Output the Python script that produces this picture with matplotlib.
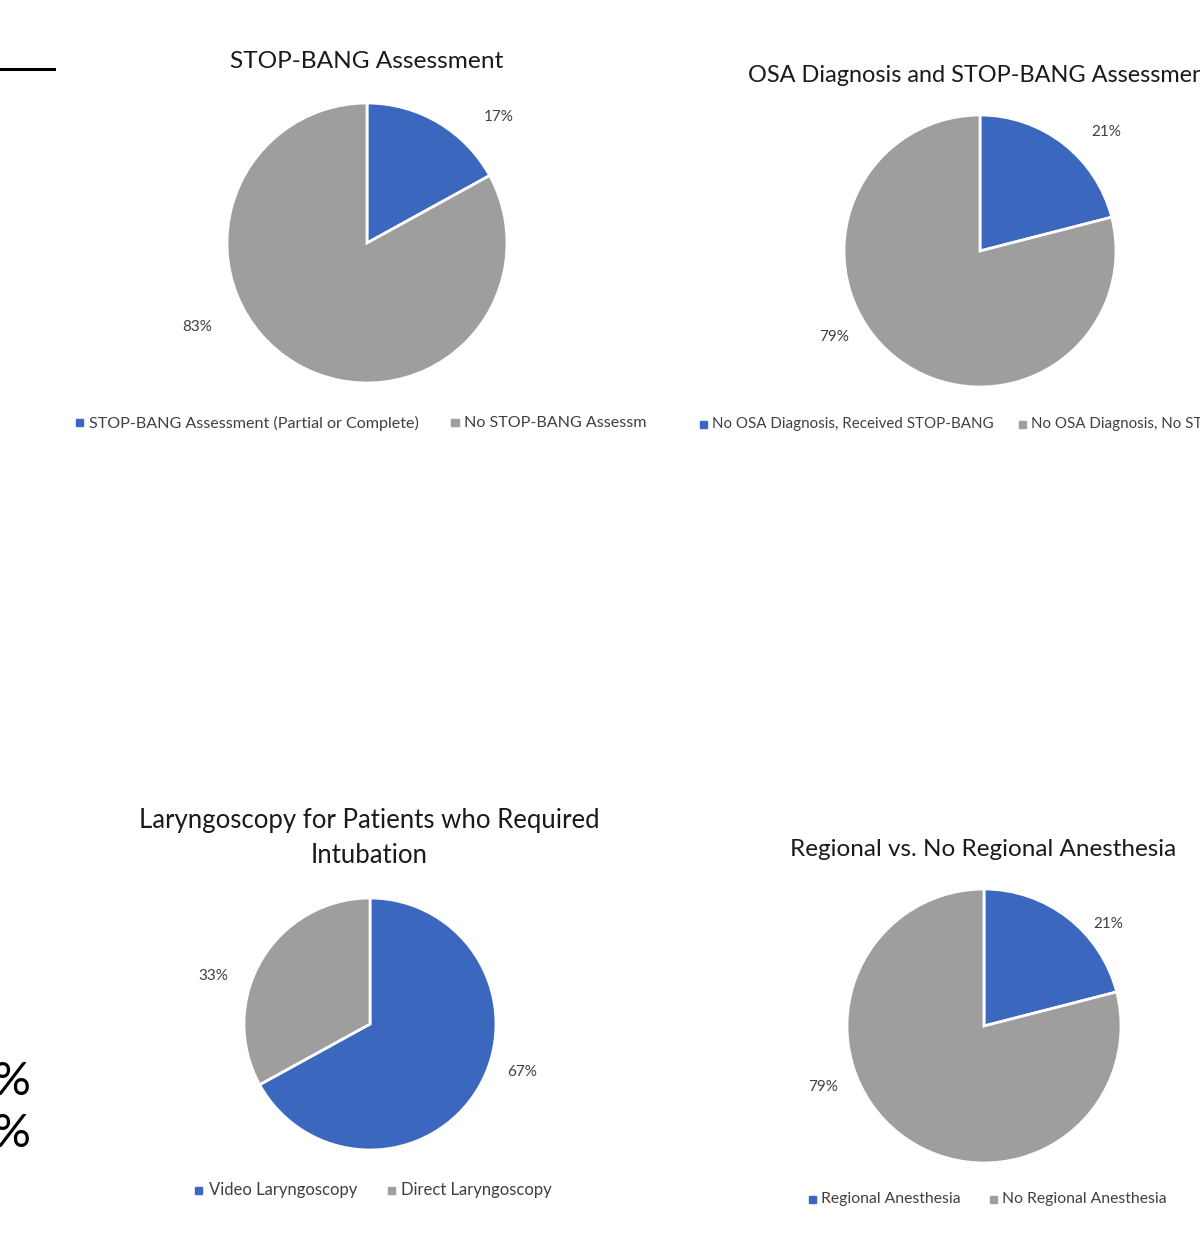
import matplotlib
matplotlib.use("Agg")
import matplotlib.pyplot as plt
from matplotlib.patches import Rectangle

plt.rcParams['font.family'] = ['Lato', 'DejaVu Sans']

W, H = 1200, 1245

# ---- data ----
titles = ["STOP-BANG Assessment",
          "OSA Diagnosis and STOP-BANG Assessment",
          "Laryngoscopy for Patients who Required\nIntubation",
          "Regional vs. No Regional Anesthesia"]
categories = [["STOP-BANG Assessment (Partial or Complete)", "No STOP-BANG Assessm"],
              ["No OSA Diagnosis, Received STOP-BANG", "No OSA Diagnosis, No STOP-BANG"],
              ["Video Laryngoscopy", "Direct Laryngoscopy"],
              ["Regional Anesthesia", "No Regional Anesthesia"]]
values = [[17, 83], [21, 79], [67, 33], [21, 79]]
colors = ["#3B68BE", "#9E9E9E"]

# ---- layout (pixels) ----
pie_geom = [(367, 243, 140), (980, 251, 136), (370, 1024, 126), (984, 1026, 137)]
label_pos = [[(0.94, 0.90), (-1.21, -0.60)],
             [(0.93, 0.875), (-1.07, -0.63)],
             [(1.21, -0.38), (-1.24, 0.38)],
             [(0.905, 0.745), (-1.175, -0.445)]]
title_geom = [(367, 61, 'center', 17.6), (748, 75, 'left', 16.9),
              (369, 838, 'center', 18.5), (983, 849, 'center', 17.5)]
legend_geom = [[(79, 89), (455, 464), 423, 11.6],
               [(703, 712), (1022, 1031), 424, 10.9],
               [(199, 209), (391, 401), 1190, 12.0],
               [(812, 821), (993, 1002), 1199, 11.3]]

fig = plt.figure(figsize=(W / 100, H / 100), dpi=100)

def fx(x):
    return x / W

def fy(y):
    return 1 - y / H

for i in range(4):
    cx, cy, r = pie_geom[i]
    ax = fig.add_axes([fx(cx - r), fy(cy + r), 2 * r / W, 2 * r / H])
    ax.pie(values[i], colors=colors, startangle=90, counterclock=False,
           wedgeprops=dict(edgecolor='white', linewidth=2))
    ax.set_xlim(-1, 1)
    ax.set_ylim(-1, 1)
    ax.set_aspect('equal')
    ax.axis('off')
    for v, (lx, ly) in zip(values[i], label_pos[i]):
        ax.text(lx, ly, f"{v}%", ha='center', va='center', fontsize=11,
                color='#404040', clip_on=False)
    # title
    tx, ty, tha, tfs = title_geom[i]
    fig.text(fx(tx), fy(ty), titles[i], ha=tha, va='center', fontsize=tfs,
             color='#1a1a1a', linespacing=1.5, multialignment='center')
    # legend
    (m1, t1), (m2, t2), ly, lfs = legend_geom[i]
    for (mx, txp), cat, col in zip([(m1, t1), (m2, t2)], categories[i], colors):
        fig.patches.append(Rectangle((fx(mx - 3.5), fy(ly + 3.5)), 7 / W, 7 / H,
                                     transform=fig.transFigure, color=col))
        fig.text(fx(txp), fy(ly), cat, ha='left', va='center', fontsize=lfs,
                 color='#404040')

# slide fragments at the left edge
fig.add_artist(plt.Line2D([0, fx(54)], [fy(69), fy(69)], transform=fig.transFigure,
                          color='black', linewidth=2.2))
fig.text(fx(31), fy(1082), "%", ha='right', va='center', fontsize=34, color='black')
fig.text(fx(31), fy(1134), "%", ha='right', va='center', fontsize=34, color='black')

fig.savefig("out.png", dpi=100)
